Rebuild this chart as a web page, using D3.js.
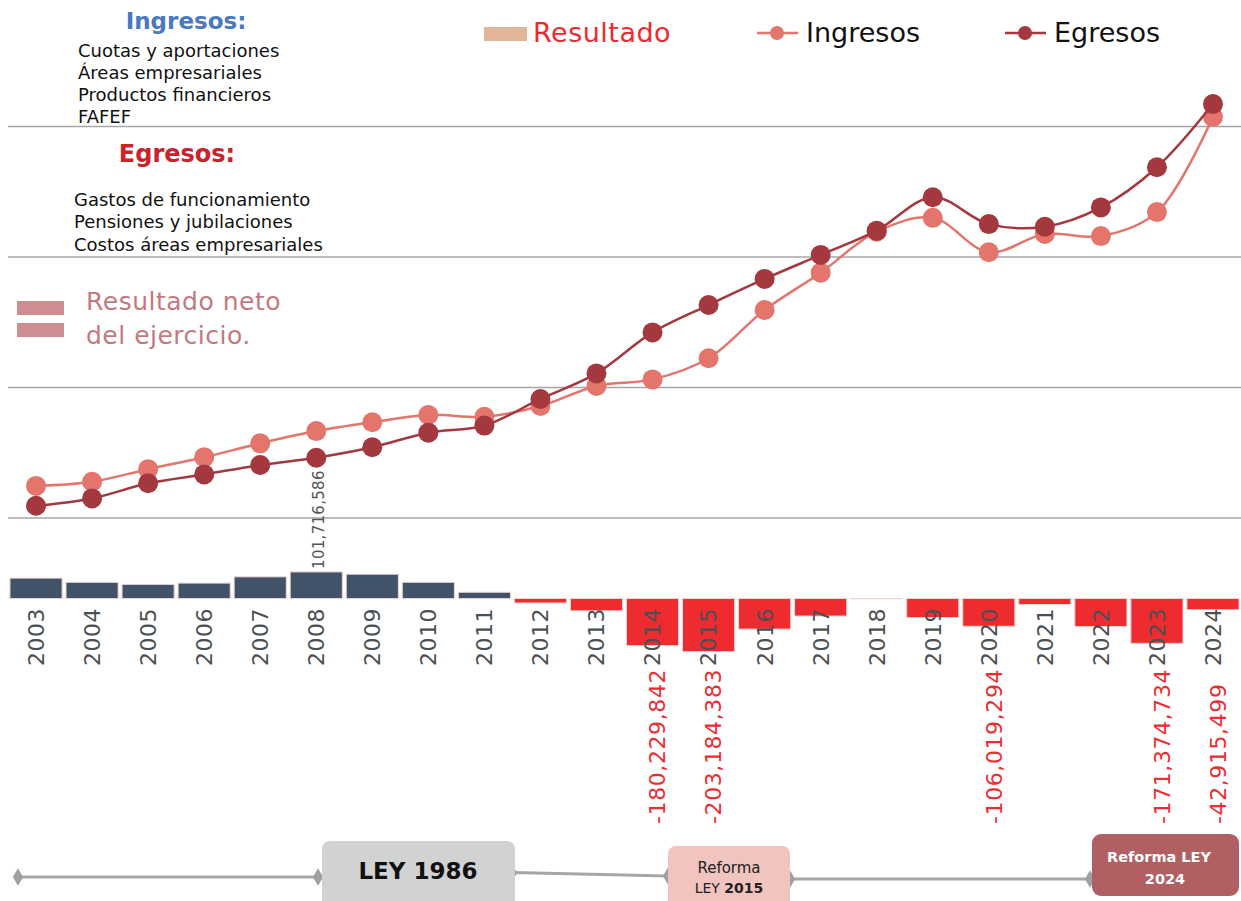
<!DOCTYPE html>
<html>
<head>
	<meta charset="utf-8">
	<script src="https://cdn.jsdelivr.net/npm/d3@7"></script>
	<style type="text/css">
		body { margin: 0; background: #fff; }
		svg { font-family: 'DejaVu Sans', sans-serif; }
		.grid { stroke: #a6a6a6; stroke-width: 1.5; }
		.year { fill: #4a4f52; font-size: 22px; }
	</style>
</head>
<body>
	<script type="text/javascript">
		// años
		var years = ['2003', '2004', '2005', '2006', '2007', '2008', '2009', '2010', '2011', '2012', '2013',
			'2014', '2015', '2016', '2017', '2018', '2019', '2020', '2021', '2022', '2023', '2024'];

		// millones de pesos
		var ingresos = [123, 139, 187, 233, 286, 333, 367, 395, 388, 429, 506,
			531, 612, 797, 940, 1097, 1150, 1018, 1088, 1080, 1172, 1537];
		var egresos = [47, 75, 133, 167, 203, 231, 271, 327, 354, 456, 554,
			711, 816, 916, 1008, 1101, 1229, 1126, 1116, 1190, 1344, 1586];

		// resultado neto del ejercicio, pesos
		var resultado = [78e6, 62e6, 54e6, 59e6, 83e6, 101716586, 93e6, 62e6, 24e6, -17e6, -47e6,
			-180229842, -203184383, -117e6, -67e6, -1e6, -73e6, -106019294, -23e6, -107e6, -171374734, -42915499];

		var labeledYears = ['2008', '2014', '2015', '2020', '2023', '2024'];
		var gridValues = [0, 500, 1000, 1500];

		var ingresosItems = ['Cuotas y aportaciones', 'Áreas empresariales', 'Productos financieros', 'FAFEF'];
		var egresosItems = ['Gastos de funcionamiento', 'Pensiones y jubilaciones', 'Costos áreas empresariales'];

		var colors = {
			ing: '#e3756c',
			egr: '#a3393f',
			pos: '#425369',
			neg: '#ee2c2f'
		};

		var dim = { w: 1241, h: 901 };

		var svg = d3.select('body')
			.append('svg')
				.attr('width', dim.w)
				.attr('height', dim.h);

		var x = d3.scaleBand()
			.domain(years)
			.range([8, 1241])
			.paddingInner(0.07)
			.paddingOuter(0.035);

		var yLine = d3.scaleLinear()
			.domain([0, 1500])
			.range([518, 126.5]);

		var yBar = d3.scaleLinear()
			.domain([-250e6, 150e6])
			.range([663.9, 559.3]);

		var cx = function(d, i) { return x(years[i]) + x.bandwidth() / 2; };

		/** gridlines **/
		svg.append('g')
			.selectAll('line')
				.data(gridValues).enter()
			.append('line')
				.attr('class', 'grid')
				.attr('x1', 8)
				.attr('x2', dim.w)
				.attr('y1', function(d) { return yLine(d); })
				.attr('y2', function(d) { return yLine(d); });

		/** bars **/
		svg.append('g')
			.selectAll('rect')
				.data(resultado).enter()
			.append('rect')
				.attr('x', function(d, i) { return x(years[i]); })
				.attr('width', x.bandwidth())
				.attr('y', function(d) { return yBar(Math.max(0, d)); })
				.attr('height', function(d) { return Math.abs(yBar(d) - yBar(0)); })
				.attr('fill', function(d) { return d >= 0 ? colors.pos : colors.neg; })
				.attr('stroke', '#ecd6d2')
				.attr('stroke-width', 1);

		/** year labels **/
		svg.append('g')
			.selectAll('text')
				.data(years).enter()
			.append('text')
				.attr('class', 'year')
				.attr('transform', function(d) {
					return 'translate(' + (x(d) + x.bandwidth() / 2) + ',' + 608 + ') rotate(-90)';
				})
				.attr('dy', '0.36em')
				.attr('text-anchor', 'end')
				.style('letter-spacing', '0.5px')
				.text(function(d) { return d; });

		/** value labels **/
		var fmt = d3.formatLocale({ decimal: '.', thousands: ',', grouping: [3], currency: ['$', ''], minus: '-' }).format(',');
		svg.append('g')
			.selectAll('text')
				.data(resultado.map(function(v, i) { return { year: years[i], v: v }; })
					.filter(function(d) { return labeledYears.indexOf(d.year) >= 0; }))
				.enter()
			.append('text')
				.attr('transform', function(d) {
					var px = x(d.year) + x.bandwidth() / 2;
					if (d.v >= 0) return 'translate(' + (px + 2) + ',' + (yBar(d.v) - 3) + ') rotate(-90)';
					return 'translate(' + (px + 5) + ',' + 824 + ') rotate(-90)';
				})
				.attr('dy', '0.36em')
				.attr('fill', function(d) { return d.v >= 0 ? '#555' : colors.neg; })
				.style('font-size', function(d) { return d.v >= 0 ? '15px' : '22px'; })
				.style('letter-spacing', function(d) { return d.v >= 0 ? '0.3px' : '0.6px'; })
				.text(function(d) { return fmt(d.v); });

		/** lines **/
		var line = d3.line()
			.x(cx)
			.y(function(d) { return yLine(d); })
			.curve(d3.curveCatmullRom.alpha(0.5));

		[[ingresos, colors.ing], [egresos, colors.egr]].forEach(function(s) {
			svg.append('path')
				.datum(s[0])
				.attr('d', line)
				.attr('fill', 'none')
				.attr('stroke', s[1])
				.attr('stroke-width', 2.5);
			svg.append('g')
				.selectAll('circle')
					.data(s[0]).enter()
				.append('circle')
					.attr('cx', cx)
					.attr('cy', function(d) { return yLine(d); })
					.attr('r', 10)
					.attr('fill', s[1]);
		});

		/** legend **/
		var legend = svg.append('g');
		legend.append('rect')
			.attr('x', 484).attr('y', 27)
			.attr('width', 43).attr('height', 14)
			.attr('fill', '#e3b598');
		legend.append('text')
			.attr('x', 533).attr('y', 42)
			.attr('fill', '#ee2a2e')
			.style('font-size', '27px')
			.style('letter-spacing', '0.5px')
			.text('Resultado');

		[[757, colors.ing, 'Ingresos'], [1005, colors.egr, 'Egresos']].forEach(function(l) {
			legend.append('line')
				.attr('x1', l[0]).attr('x2', l[0] + 41)
				.attr('y1', 33).attr('y2', 33)
				.attr('stroke', l[1]).attr('stroke-width', 2.5);
			legend.append('circle')
				.attr('cx', l[0] + 20).attr('cy', 33).attr('r', 7)
				.attr('fill', l[1]);
			legend.append('text')
				.attr('x', l[0] + 49).attr('y', 42)
				.attr('fill', '#111')
				.style('font-size', '27px')
				.text(l[2]);
		});

		/** notes top left **/
		var notes = svg.append('g');
		notes.append('text')
			.attr('x', 186).attr('y', 29)
			.attr('text-anchor', 'middle')
			.attr('fill', '#4a78c2')
			.style('font-size', '23px').style('font-weight', 'bold')
			.text('Ingresos:');
		notes.selectAll('.ing')
			.data(ingresosItems).enter()
			.append('text')
				.attr('x', 78)
				.attr('y', function(d, i) { return 56.5 + i * 22; })
				.attr('fill', '#111')
				.style('font-size', '18px')
				.text(function(d) { return d; });
		notes.append('text')
			.attr('x', 177).attr('y', 162)
			.attr('text-anchor', 'middle')
			.attr('fill', '#cc2229')
			.style('font-size', '24px').style('font-weight', 'bold')
			.text('Egresos:');
		notes.selectAll('.egr')
			.data(egresosItems).enter()
			.append('text')
				.attr('x', 74)
				.attr('y', function(d, i) { return 205.5 + i * 22.5; })
				.attr('fill', '#111')
				.style('font-size', '18px')
				.text(function(d) { return d; });

		/** resultado neto note **/
		[301, 323].forEach(function(yy) {
			notes.append('rect')
				.attr('x', 17).attr('y', yy)
				.attr('width', 47).attr('height', 14)
				.attr('fill', '#cf8e92');
		});
		notes.append('text')
			.attr('x', 86).attr('y', 310)
			.attr('fill', '#c27a7f')
			.style('font-size', '25px').style('letter-spacing', '0.5px')
			.text('Resultado neto');
		notes.append('text')
			.attr('x', 86).attr('y', 344)
			.attr('fill', '#c27a7f')
			.style('font-size', '25px').style('letter-spacing', '0.5px')
			.text('del ejercicio.');

		/** timeline **/
		var tl = svg.append('g');
		var segs = [[18, 877, 318, 877], [512, 872.5, 668, 876], [790, 879, 1090, 879]];
		segs.forEach(function(s) {
			tl.append('line')
				.attr('x1', s[0]).attr('y1', s[1])
				.attr('x2', s[2]).attr('y2', s[3])
				.attr('stroke', '#a6a6a6').attr('stroke-width', 3);
		});
		var diamond = d3.symbol().type(d3.symbolDiamond).size(90);
		[[18, 877], [318, 877], [512, 873], [668, 876], [790, 879], [1090, 879]].forEach(function(p) {
			tl.append('path')
				.attr('d', diamond)
				.attr('transform', 'translate(' + p[0] + ',' + p[1] + ')')
				.attr('fill', '#a0a0a0');
		});

		tl.append('rect')
			.attr('x', 322).attr('y', 841).attr('width', 193).attr('height', 70)
			.attr('rx', 8).attr('fill', '#d1d3d2');
		tl.append('text')
			.attr('x', 418).attr('y', 879)
			.attr('text-anchor', 'middle')
			.attr('fill', '#111')
			.style('font-size', '23px').style('font-weight', 'bold')
			.text('LEY 1986');

		tl.append('rect')
			.attr('x', 668).attr('y', 846).attr('width', 122).attr('height', 65)
			.attr('rx', 8).attr('fill', '#f2c4bf');
		tl.append('text')
			.attr('x', 729).attr('y', 873)
			.attr('text-anchor', 'middle')
			.attr('fill', '#222')
			.style('font-size', '15px')
			.text('Reforma');
		var t2 = tl.append('text')
			.attr('x', 729).attr('y', 893)
			.attr('text-anchor', 'middle')
			.attr('fill', '#222')
			.style('font-size', '14px');
		t2.append('tspan').text('LEY ');
		t2.append('tspan').style('font-weight', 'bold').text('2015');

		tl.append('rect')
			.attr('x', 1092).attr('y', 834).attr('width', 147).attr('height', 62)
			.attr('rx', 9).attr('fill', '#b06063');
		tl.append('text')
			.attr('x', 1159).attr('y', 862)
			.attr('text-anchor', 'middle')
			.attr('fill', '#fff')
			.style('font-size', '14.5px').style('font-weight', 'bold')
			.text('Reforma LEY');
		tl.append('text')
			.attr('x', 1165).attr('y', 884)
			.attr('text-anchor', 'middle')
			.attr('fill', '#fff')
			.style('font-size', '14.5px').style('font-weight', 'bold')
			.text('2024');
	</script>
</body>
</html>
